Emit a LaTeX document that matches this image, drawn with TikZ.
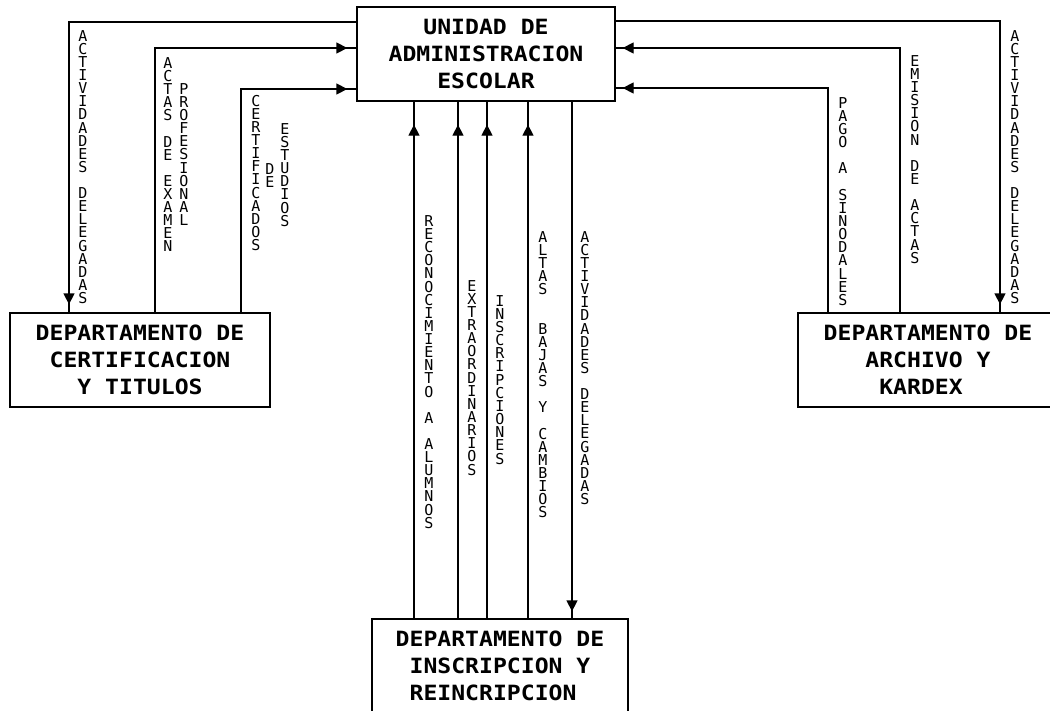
\documentclass[tikz,border=0pt]{standalone}
\usepackage{fontspec}
\setmainfont{DejaVu Sans Mono}
\newfontfamily\boxfont{DejaVu Sans Mono Bold}[FakeStretch=1.1]
\usetikzlibrary{decorations.markings,arrows.meta}

\ExplSyntaxOn
\NewDocumentCommand\vstack{m}{
  \vbox:n {
    \offinterlineskip
    \str_map_inline:nn {#1} {
      \hbox_to_wd:nn {10pt} { \hss \vrule width 0pt height 11pt depth 2.1pt
        \str_if_eq:nnF {##1} {|} {##1} \hss }
    }
  }
}
\ExplSyntaxOff

\tikzset{
  box/.style={draw, line width=1.3pt, inner sep=0pt, align=center,
    font=\boxfont\fontsize{21}{27}\selectfont},
  conn/.style={line width=1.3pt},
  tipback/.style={postaction={decorate}, decoration={markings,
    mark=at position -#1 with {\arrow{Triangle[length=11pt,width=11pt]}}}},
  vlab/.style={anchor=north, inner sep=0pt, font=\fontsize{15}{13}\selectfont}
}

\begin{document}
\begin{tikzpicture}[x=1pt,y=-1pt]
\useasboundingbox (0,0) rectangle (1050,710);
\clip (0,0) rectangle (1050,710);

% boxes
\node[box, minimum width=258pt, minimum height=94pt] (uae) at (486,54) {UNIDAD DE\\ADMINISTRACION\\ESCOLAR};
\node[box, minimum width=260pt, minimum height=94pt] (dct) at (140,360) {DEPARTAMENTO DE\\CERTIFICACION\\Y TITULOS};
\node[box, minimum width=260pt, minimum height=94pt] (dak) at (928,360) {DEPARTAMENTO DE\\ARCHIVO Y\\KARDEX\hphantom{X}};
\node[box, minimum width=256pt, minimum height=93pt] (dir) at (500,665.5) {DEPARTAMENTO DE\\INSCRIPCION Y\\REINCRIPCION\hphantom{X}};

% left connectors
\draw[conn, tipback=8pt] (uae.west |- 0,22) -| (69,0 |- dct.north);
\draw[conn, tipback=9pt] (155,0 |- dct.north) |- (uae.west |- 0,48);
\draw[conn, tipback=9pt] (241,0 |- dct.north) |- (uae.west |- 0,89);

% right connectors
\draw[conn, tipback=8pt] (uae.east |- 0,21) -| (1000,0 |- dak.north);
\draw[conn, tipback=7pt] (900,0 |- dak.north) |- (uae.east |- 0,48);
\draw[conn, tipback=7pt] (828,0 |- dak.north) |- (uae.east |- 0,88);

% centre connectors
\foreach \x in {414,458,487,528}
  \draw[conn, tipback=23pt] (\x,0 |- dir.north) -- (\x,0 |- uae.south);
\draw[conn, tipback=7pt] (572,0 |- uae.south) -- (572,0 |- dir.north);

% labels left
\node[vlab] (l1) at (83,30) {\vstack{ACTIVIDADES DELEGADAS}};
\node[vlab] (l2) at (168,57) {\vstack{ACTAS DE EXAMEN}};
\node[vlab] (l3) at (184,83) {\vstack{PROFESIONAL}};
\node[vlab] (l4) at (256,95) {\vstack{CERTIFICADOS}};
\node[vlab] (l5) at (270,163) {\vstack{DE}};
\node[vlab] (l6) at (285,123) {\vstack{ESTUDIOS}};
% labels right
\node[vlab] (r1) at (843,97) {\vstack{PAGO A SINODALES}};
\node[vlab] (r2) at (915,55) {\vstack{EMISION DE ACTAS}};
\node[vlab] (r3) at (1015,30) {\vstack{ACTIVIDADES DELEGADAS}};
% labels centre
\node[vlab] (c1) at (429,215) {\vstack{RECONOCIMIENTO A ALUMNOS}};
\node[vlab] (c2) at (472,280) {\vstack{EXTRAORDINARIOS}};
\node[vlab] (c3) at (500,295) {\vstack{INSCRIPCIONES}};
\node[vlab] (c4) at (543,231) {\vstack{ALTAS| BAJAS Y CAMBIOS}};
\node[vlab] (c5) at (585,231) {\vstack{ACTIVIDADES DELEGADAS}};
\end{tikzpicture}
\end{document}
